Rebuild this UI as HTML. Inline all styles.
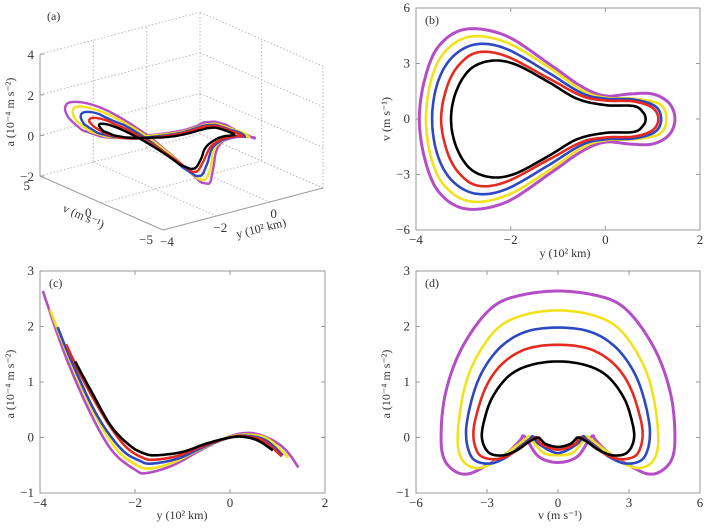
<!DOCTYPE html>
<html><head><meta charset="utf-8">
<style>
body{margin:0;background:#fff;}
svg{display:block;font-family:"Liberation Serif",serif;}
.tk{font-size:13px;fill:#333;}
.ttl{font-size:12px;fill:#333;}
</style></head>
<body>
<svg id="fig" width="706" height="528" viewBox="0 0 706 528"></svg>
<script>
// ---- data ----
const seriesNames = ['purple','yellow','blue','red','black'];
const seriesColors = ['#b54ec6','#f2e21c','#2c48c2','#e62a20','#000000'];
// Panel (b): upper half of y–v loop, [y(10^2 km), v(m/s)]
const bPurple = [[-3.93,0],[-3.8,2.3],[-3.5,4.0],[-2.94,4.86],[-2.1,4.5],[-1.2,3.0],[-0.5,1.75],[0,1.25],[0.5,1.35],[1.0,1.35],[1.35,0.85],[1.47,0]];
const bYellow = [[-3.79,0],[-3.68,2.1],[-3.4,3.6],[-2.87,4.45],[-2.1,4.15],[-1.2,2.8],[-0.5,1.55],[0,1.15],[0.6,1.1],[1.15,0.8],[1.29,0]];
const bBlue   = [[-3.66,0],[-3.55,1.9],[-3.25,3.3],[-2.75,4.03],[-2.1,3.8],[-1.2,2.5],[-0.5,1.4],[0,1.1],[0.6,1.05],[1.05,0.7],[1.18,0]];
const bRed    = [[-3.47,0],[-3.35,1.7],[-3.1,2.9],[-2.7,3.6],[-2.1,3.4],[-1.2,2.2],[-0.5,1.25],[0,1.0],[0.6,0.95],[1.0,0.6],[1.12,0]];
const bBlack  = [[-3.26,0],[-3.15,1.5],[-2.85,2.7],[-2.4,3.15],[-1.9,2.95],[-1.2,2.0],[-0.6,1.1],[0,0.75],[0.6,0.7],[0.8,0.35],[0.85,0]];
// Panel (c): a(y), [y, a(10^-4 m s^-2)]
const cPurple = [[-3.94,2.64],[-3.5,1.55],[-3,0.55],[-2.5,-0.22],[-2,-0.58],[-1.75,-0.64],[-1.2,-0.5],[-0.6,-0.22],[0,0.02],[0.45,0.08],[0.9,-0.05],[1.2,-0.25],[1.44,-0.54]];
const cYellow = [[-3.79,2.31],[-3.4,1.45],[-2.9,0.5],[-2.4,-0.2],[-2,-0.48],[-1.7,-0.56],[-1.2,-0.45],[-0.6,-0.2],[0,0.01],[0.4,0.05],[0.8,-0.03],[1.23,-0.36]];
const cBlue   = [[-3.63,1.99],[-3.3,1.3],[-2.8,0.4],[-2.3,-0.2],[-1.9,-0.42],[-1.65,-0.47],[-1.1,-0.38],[-0.5,-0.15],[0,0],[0.35,0.03],[0.75,-0.05],[1.11,-0.32]];
const cRed    = [[-3.45,1.68],[-3.1,1.05],[-2.6,0.3],[-2.2,-0.16],[-1.85,-0.36],[-1.6,-0.4],[-1.1,-0.33],[-0.5,-0.13],[0,0],[0.3,0.02],[0.7,-0.06],[1.09,-0.34]];
const cBlack  = [[-3.26,1.37],[-2.9,0.8],[-2.5,0.2],[-2.1,-0.15],[-1.8,-0.29],[-1.55,-0.32],[-1.0,-0.26],[-0.5,-0.11],[0,0],[0.3,0.01],[0.6,-0.06],[0.9,-0.23]];
// Panel (d): right half of v–a loop, [v, a]
const dPurple = [[0,2.64],[1.5,2.57],[2.6,2.4],[3.5,2.0],[4.3,1.4],[4.8,0.7],[4.94,0],[4.8,-0.4],[4.3,-0.62],[3.74,-0.65],[3.0,-0.5],[2.2,-0.3],[1.6,-0.05],[1.48,0.03],[1.3,-0.05],[0.8,-0.35],[0,-0.45]];
const dYellow = [[0,2.29],[1.5,2.2],[2.6,1.95],[3.5,1.4],[4.0,0.8],[4.24,0],[4.05,-0.4],[3.46,-0.55],[2.7,-0.45],[1.9,-0.2],[1.35,-0.02],[1.2,0.02],[1.0,-0.1],[0.6,-0.28],[0,-0.32]];
const dBlue   = [[0,1.98],[1.4,1.9],[2.5,1.6],[3.3,1.1],[3.75,0.5],[3.88,0],[3.6,-0.38],[2.9,-0.47],[2.2,-0.36],[1.6,-0.16],[1.2,-0.03],[1.05,0.02],[0.8,-0.12],[0,-0.28]];
const dRed    = [[0,1.67],[1.3,1.6],[2.3,1.35],[3.0,0.95],[3.45,0.4],[3.57,0],[3.3,-0.32],[2.6,-0.39],[2.0,-0.3],[1.4,-0.12],[1.05,-0.02],[0.9,0.0],[0.7,-0.12],[0,-0.22]];
const dBlack  = [[0,1.37],[1.2,1.3],[2.1,1.1],[2.8,0.7],[3.15,0.25],[3.2,-0.05],[2.9,-0.28],[2.3,-0.32],[1.7,-0.22],[1.2,-0.07],[0.85,0.0],[0.7,-0.05],[0.5,-0.12],[0,-0.17]];
const bTicksX=[-4,-2,0,2], bTicksY=[6,3,0,-3,-6];
const cTicksX=[-4,-2,0,2], cTicksY=[3,2,1,0,-1];
const dTicksX=[-6,-3,0,3,6], dTicksY=[3,2,1,0,-1];
const aTicksA=[4,2,0,-2], aTicksV=[5,0,-5], aTicksY=[-4,-2,0];

const B=[bPurple,bYellow,bBlue,bRed,bBlack];
const C=[cPurple,cYellow,cBlue,cRed,cBlack];
const D=[dPurple,dYellow,dBlue,dRed,dBlack];

const NS='http://www.w3.org/2000/svg';
const svg=document.getElementById('fig');
function el(tag,attrs,parent){const e=document.createElementNS(NS,tag);for(const k in attrs)e.setAttribute(k,attrs[k]);(parent||svg).appendChild(e);return e;}
function txt(s,x,y,cls,anchor,parent){const t=el('text',{x:x,y:y,class:cls,'text-anchor':anchor||'middle'},parent);t.textContent=s;return t;}
function lin(d0,d1,r0,r1){return v=>r0+(v-d0)*(r1-r0)/(d1-d0);}
function cr(pts,closed,n){
  const out=[];const N=pts.length;const segs=closed?N:N-1;
  const P=i=>closed?pts[(i+N)%N]:pts[Math.max(0,Math.min(N-1,i))];
  for(let i=0;i<segs;i++){const p0=P(i-1),p1=P(i),p2=P(i+1),p3=P(i+2);
    for(let k=0;k<n;k++){const t=k/n,t2=t*t,t3=t2*t;
      out.push([0,1].map(j=>0.5*((2*p1[j])+(-p0[j]+p2[j])*t+(2*p0[j]-5*p1[j]+4*p2[j]-p3[j])*t2+(-p0[j]+3*p1[j]-3*p2[j]+p3[j])*t3)));}}
  if(!closed)out.push(pts[N-1]);
  return out;}
function pathD(pts){return pts.map((p,i)=>(i?'L':'M')+p[0].toFixed(1)+' '+p[1].toFixed(1)).join('')+'';}
function loopB(h){const low=h.slice(1,-1).reverse().map(p=>[p[0],-p[1]]);return h.concat(low);}
function loopD(h){const m=h.slice(1,-1).reverse().map(p=>[-p[0],p[1]]);return h.concat(m);}
function interpA(c,y){if(y<=c[0][0])return c[0][1];for(let i=1;i<c.length;i++){if(y<=c[i][0]){const t=(y-c[i-1][0])/(c[i][0]-c[i-1][0]);return c[i-1][1]+t*(c[i][1]-c[i-1][1]);}}return c[c.length-1][1];}

function panel2D(name,x0,x1,y0,y1,dx,dy,tx,ty,label){
  const g=el('g',{});
  const sx=lin(dx[0],dx[1],x0,x1), sy=lin(dy[0],dy[1],y0,y1);
  el('rect',{x:x0,y:y0,width:x1-x0,height:y1-y0,fill:'none',stroke:'#999','stroke-width':1},g);
  tx.forEach(v=>{const X=sx(v);el('line',{x1:X,x2:X,y1:y1,y2:y1-4,stroke:'#999'},g);el('line',{x1:X,x2:X,y1:y0,y2:y0+4,stroke:'#999'},g);
    txt(v<0?'\u2212'+(-v):String(v),X,y1+14,'tk','middle',g);});
  ty.forEach(v=>{const Y=sy(v);el('line',{x1:x0,x2:x0+4,y1:Y,y2:Y,stroke:'#999'},g);el('line',{x1:x1,x2:x1-4,y1:Y,y2:Y,stroke:'#999'},g);
    txt(v<0?'\u2212'+(-v):String(v),x0-6,Y+4,'tk','end',g);});
  txt(label,x0+9,y0+16,'ttl','start',g);
  return {g,sx,sy};}

// ---- panel (b) ----
const pb=panel2D('panel-b',416,700,8,230,[-4,2],[6,-6],bTicksX,bTicksY,'(b)');
B.forEach((h,i)=>{const pts=cr(loopB(h),true,10).map(p=>[pb.sx(p[0]),pb.sy(p[1])]);
  const p=el('path',{d:pathD(pts)+'Z',fill:'none',stroke:seriesColors[i],'stroke-width':i==0?3:2.6},pb.g);
  });
txt('y (10\u00B2 km)',565,257,'ttl','middle',pb.g).setAttribute('font-style','normal');
const bty=txt('v (m s\u207B\u00B9)',0,0,'ttl','middle',pb.g);bty.setAttribute('transform','translate(390,119) rotate(-90)');

// ---- panel (c) ----
const pc=panel2D('panel-c',40,325,271,493,[-4,2],[3,-1],cTicksX,cTicksY,'(c)');
C.forEach((h,i)=>{const pts=cr(h,false,10).map(p=>[pc.sx(p[0]),pc.sy(p[1])]);
  const p=el('path',{d:pathD(pts),fill:'none',stroke:seriesColors[i],'stroke-width':2.6},pc.g);
  });
txt('y  (10\u00B2 km)',182,519,'ttl','middle',pc.g);
const cty=txt('a  (10\u207B\u2074 m s\u207B\u00B2)',0,0,'ttl','middle',pc.g);cty.setAttribute('transform','translate(14,384) rotate(-90)');

// ---- panel (d) ----
const pd=panel2D('panel-d',416,700,271,493,[-6,6],[3,-1],dTicksX,dTicksY,'(d)');
D.forEach((h,i)=>{const pts=cr(loopD(h),true,10).map(p=>[pd.sx(p[0]),pd.sy(p[1])]);
  const p=el('path',{d:pathD(pts)+'Z',fill:'none',stroke:seriesColors[i],'stroke-width':i==0?3:2.6},pd.g);
  });
txt('v (m s\u207B\u00B9)',560,519,'ttl','middle',pd.g);
const dty=txt('a  (10\u207B\u2074 m s\u207B\u00B2)',0,0,'ttl','middle',pd.g);dty.setAttribute('transform','translate(390,384) rotate(-90)');

// ---- panel (a) 3D ----
const ga=el('g',{});
function P3(y,v,a){return [163+(y+4)*26.67+(v+5)*(-12.3), 230+(y+4)*(-7)+(v+5)*(-5.4)+(a+2)*(-20.3)];}
function L3(p,q,dash){const A=P3(...p),Bq=P3(...q);el('line',{x1:A[0],y1:A[1],x2:Bq[0],y2:Bq[1],stroke:dash?'#bbb':'#999','stroke-width':1,'stroke-dasharray':dash?'1.5,2':'none'},ga);}
// grid on back walls and floor
[-2,0,2,4].forEach(a=>{L3([-4,5,a],[2,5,a],true);L3([2,5,a],[2,-5,a],true);});
[-2,0,2].forEach(y=>{L3([y,5,-2],[y,5,4],true);L3([y,5,-2],[y,-5,-2],true);});
[0,-5].forEach(v=>{L3([2,v,-2],[2,v,4],true);});
L3([-4,0,-2],[2,0,-2],true);
// solid axes
L3([-4,5,-2],[-4,5,4],false);L3([-4,5,-2],[-4,-5,-2],false);L3([-4,-5,-2],[2,-5,-2],false);
aTicksA.forEach(a=>{const p=P3(-4,5,a);el('line',{x1:p[0],x2:p[0]+4,y1:p[1],y2:p[1],stroke:'#999'},ga);txt(a<0?'\u2212'+(-a):String(a),p[0]-6,p[1]+5,'tk','end',ga);});
aTicksV.forEach(v=>{const p=P3(-4,v,-2);txt(v<0?'\u2212'+(-v):String(v),p[0]-10,p[1]+14,'tk','end',ga);});
aTicksY.forEach(y=>{const p=P3(y,-5,-2);txt(y<0?'\u2212'+(-y):String(y),p[0]+4,p[1]+16,'tk','middle',ga);});
txt('(a)',47,20,'ttl','start',ga);
const aty=txt('a  (10\u207B\u2074 m s\u207B\u00B2)',0,0,'ttl','middle',ga);aty.setAttribute('transform','translate(14,112) rotate(-90)');
const avl=txt('v  (m s\u207B\u00B9)',0,0,'ttl','middle',ga);avl.setAttribute('transform','translate(82,220) rotate(24)');
const ayl=txt('y  (10\u00B2 km)',0,0,'ttl','middle',ga);ayl.setAttribute('transform','translate(262,232) rotate(-14)');
B.forEach((h,i)=>{const loop=cr(loopB(h),true,10);
  const pts=loop.map(p=>P3(p[0],p[1],interpA(C[i],p[0])));
  const p=el('path',{d:pathD(pts)+'Z',fill:'none',stroke:seriesColors[i],'stroke-width':2.4},ga);
  });
</script>
</body></html>
